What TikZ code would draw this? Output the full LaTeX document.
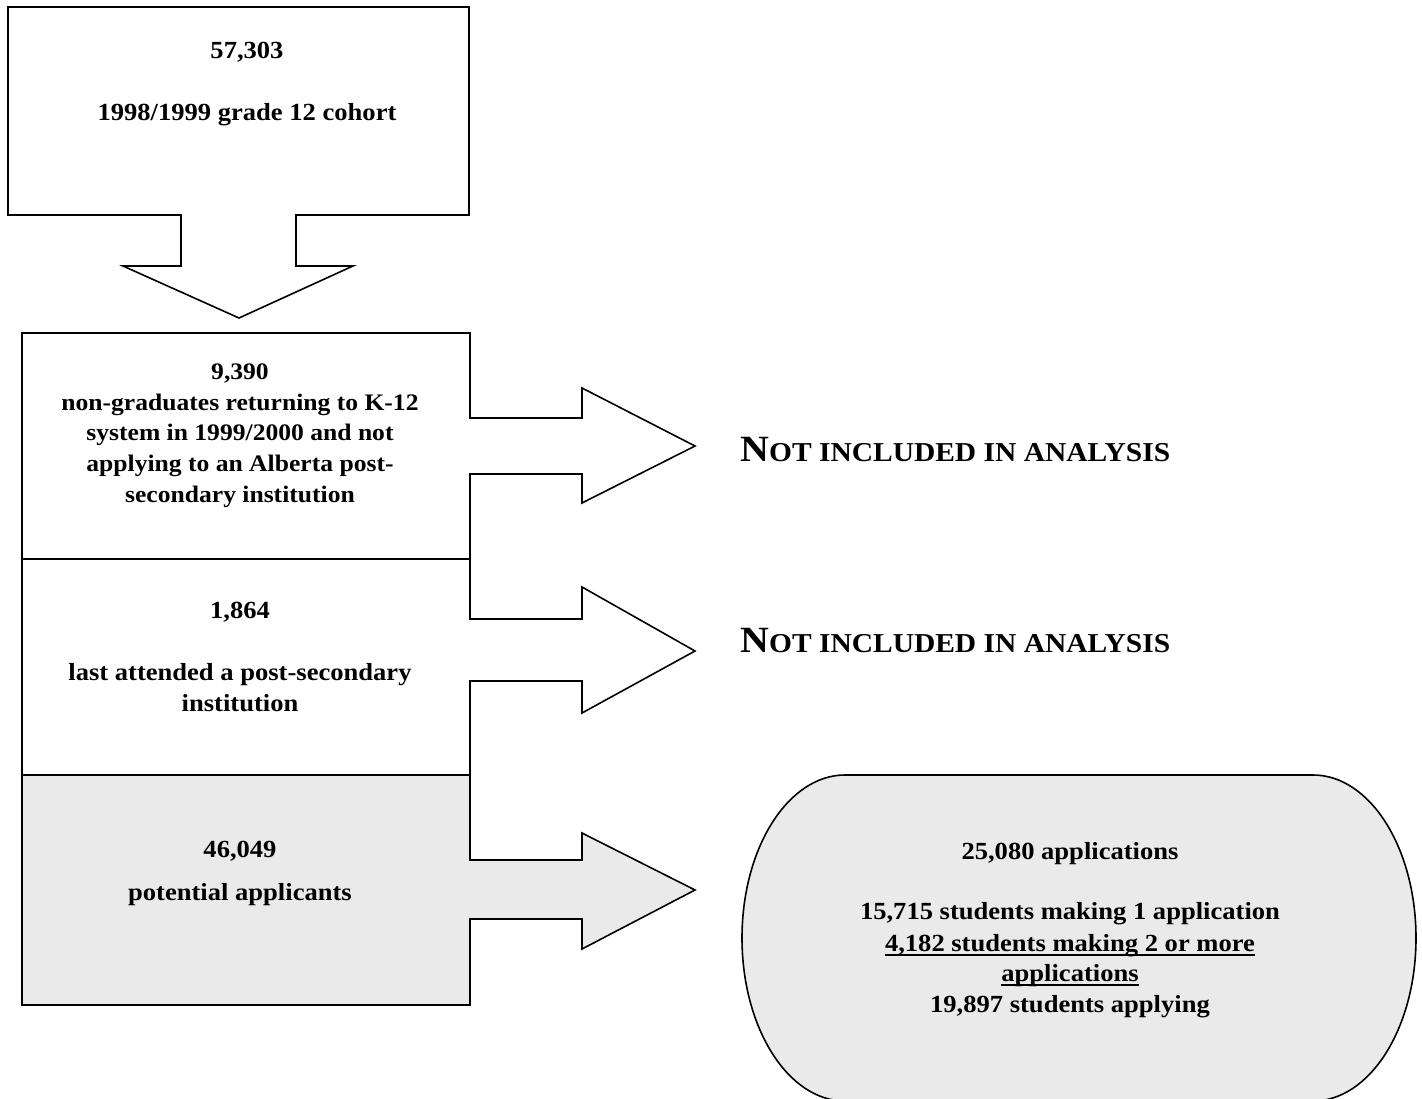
\documentclass[tikz,border=0pt]{standalone}
\usepackage{fontspec}
\setmainfont{Liberation Serif}[FakeStretch=1.08]
\definecolor{boxgray}{RGB}{234,234,234}
\begin{document}
\begin{tikzpicture}[x=1pt,y=-1pt,
  txt/.style={inner sep=0pt, anchor=base, font=\bfseries\fontsize{24.6}{28}\selectfont},
  txtn/.style={inner sep=0pt, anchor=base, font=\bfseries\fontsize{23.7}{28}\selectfont},
  outline/.style={draw=black, line width=1.6pt, line join=miter},
  bignote/.style={inner sep=0pt, anchor=base west, font=\bfseries}]
\useasboundingbox[fill=white] (0,0) rectangle (1422,1099);

% top box with down arrow
\draw[outline, fill=white] (8,7) -- (469,7) -- (469,215) -- (296,215) -- (296,266) -- (353,266)
  -- (239,318) -- (123,266) -- (181,266) -- (181,215) -- (8,215) -- cycle;

% lower column with three right arrows
\fill[boxgray] (22,775) -- (470,775) -- (470,860) -- (582,860) -- (582,833) -- (695,890)
  -- (582,949) -- (582,919) -- (470,919) -- (470,1005) -- (22,1005) -- cycle;
\draw[outline] (22,333) -- (470,333) -- (470,418) -- (582,418) -- (582,388) -- (695,446)
  -- (582,503) -- (582,474) -- (470,474) -- (470,619) -- (582,619) -- (582,587) -- (695,651)
  -- (582,713) -- (582,681) -- (470,681) -- (470,860) -- (582,860) -- (582,833) -- (695,890)
  -- (582,949) -- (582,919) -- (470,919) -- (470,1005) -- (22,1005) -- cycle;
\draw[outline] (22,559) -- (470,559);
\draw[outline] (22,775) -- (470,775);

% rounded result shape (its bottom edge falls at the picture's lower border)
\begin{scope}
\clip (0,0) rectangle (1422,1099);
\draw[outline, fill=boxgray] (845,775) -- (1313,775)
  arc[start angle=-90, end angle=90, x radius=103, y radius=163] -- (845,1101)
  arc[start angle=90, end angle=270, x radius=103, y radius=163] -- cycle;
\end{scope}

% texts
\node[txt] (n1a) at (247,59) {57,303};
\node[txt] (n1b) at (247,121) {1998/1999 grade 12 cohort};

\node[txtn] (n2a) at (240,379) {9,390};
\node[txtn] (n2b) at (240,410) {non-graduates returning to K-12};
\node[txtn] (n2c) at (240,440) {system in 1999/2000 and not};
\node[txtn] (n2d) at (240,471) {applying to an Alberta post-};
\node[txtn] (n2e) at (240,502) {secondary institution};

\node[txt] (n3a) at (240,618) {1,864};
\node[txt] (n3b) at (240,680) {last attended a post-secondary};
\node[txt] (n3c) at (240,711) {institution};

\node[txt] (n4a) at (240,857) {46,049};
\node[txt] (n4b) at (240,900) {potential applicants};

\node[bignote] (x1) at (740,461) {{\fontsize{37}{40}\selectfont N}{\fontsize{27.3}{30}\selectfont OT INCLUDED IN ANALYSIS}};
\node[bignote] (x2) at (740,652) {{\fontsize{37}{40}\selectfont N}{\fontsize{27.3}{30}\selectfont OT INCLUDED IN ANALYSIS}};

\node[txt] (e1) at (1070,859) {25,080 applications};
\node[txt] (e2) at (1070,919) {15,715 students making 1 application};
\node[txt] (e3) at (1070,951) {4,182 students making 2 or more};
\node[txt] (e4) at (1070,981) {applications};
\node[txt] (e5) at (1070,1012) {19,897 students applying};
\draw[line width=1.4pt] ([yshift=-4pt]e3.base west) -- ([yshift=-4pt]e3.base east);
\draw[line width=1.4pt] ([yshift=-4pt]e4.base west) -- ([yshift=-4pt]e4.base east);
\end{tikzpicture}
\end{document}
